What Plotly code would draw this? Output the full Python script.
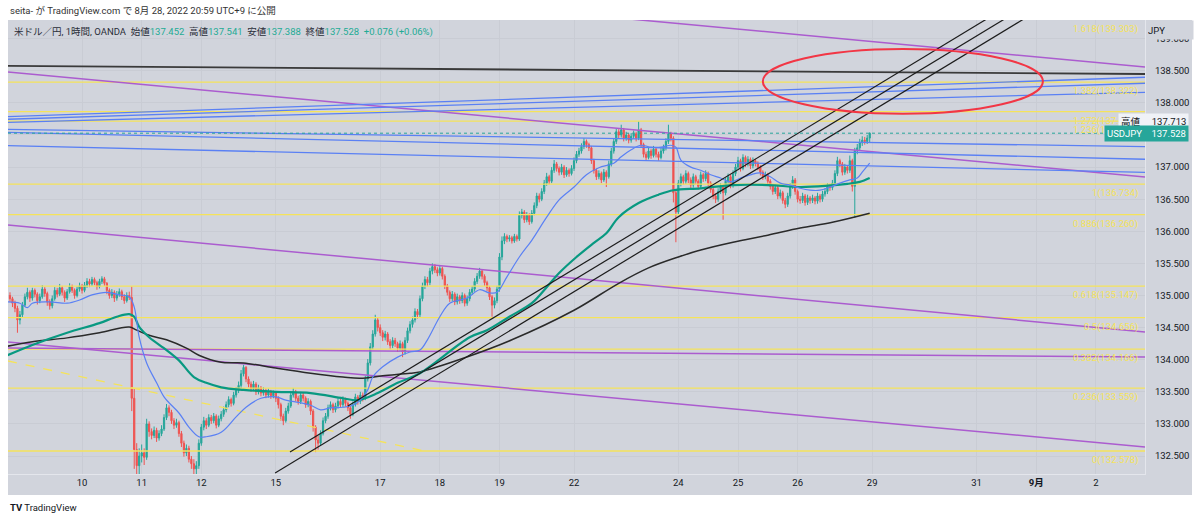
import plotly.graph_objects as go

# ---------------- data ----------------
# hourly bars, bar index 0 = Aug 10 00:00 JST (weekend hours removed)
first_bar = -29
first_open = 135.00
closes = [
    134.95, 134.88, 134.80, 134.62, 134.70, 134.85, 134.98, 135.05, 134.96, 135.08,
    135.02, 134.92, 134.98, 135.10, 135.03, 134.90, 134.84, 134.95, 135.08, 135.02,
    135.12, 135.05, 134.96, 135.06, 135.14, 135.08, 135.00, 135.10, 135.15, 135.08,
    135.16, 135.22, 135.18, 135.25, 135.20, 135.14, 135.22, 135.26, 135.19, 135.08,
    135.00, 135.05, 134.96, 135.02, 135.06, 134.98, 134.92, 135.00, 134.97, 133.40,
    132.60, 132.35, 132.50, 132.55, 132.48, 133.00, 132.88, 132.82, 132.90, 132.78,
    132.85, 132.92, 133.10, 133.25, 133.18, 133.05, 132.98, 133.02, 132.85, 132.70,
    132.55, 132.62, 132.45, 132.38, 132.30, 132.35, 132.70, 132.95, 133.05, 132.98,
    133.10, 133.05, 133.12, 132.98, 133.08, 133.15, 133.22, 133.30, 133.38, 133.32,
    133.45, 133.52, 133.60, 133.78, 133.88, 133.70, 133.62, 133.55, 133.62, 133.50,
    133.56, 133.48, 133.52, 133.45, 133.50, 133.44, 133.48, 133.40, 133.30, 133.12,
    133.05, 133.20, 133.28, 133.45, 133.50, 133.40, 133.35, 133.45, 133.40, 133.30,
    133.35, 133.20, 132.95, 132.75, 132.70, 132.85, 133.05, 133.12, 133.25, 133.30,
    133.22, 133.28, 133.35, 133.30, 133.38, 133.32, 133.25, 133.15, 133.30, 133.42,
    133.35, 133.45, 133.40, 133.70, 133.95, 134.20, 134.40, 134.62, 134.50, 134.42,
    134.35, 134.40, 134.28, 134.22, 134.30, 134.25, 134.18, 134.25, 134.12, 134.30,
    134.45, 134.55, 134.62, 134.75, 134.70, 134.95, 135.15, 135.25, 135.20, 135.38,
    135.45, 135.40, 135.35, 135.42, 135.30, 135.15, 135.05, 134.95, 135.02, 134.90,
    134.98, 134.92, 135.00, 134.88, 134.95, 135.05, 135.10, 135.22, 135.30, 135.38,
    135.30, 135.20, 135.12, 134.98, 134.85, 134.92, 135.10, 135.60, 135.85, 135.92,
    135.88, 135.90, 135.85, 135.92, 135.88, 136.25, 136.30, 136.18, 136.25, 136.15,
    136.28, 136.40, 136.55, 136.50, 136.62, 136.75, 136.85, 136.78, 136.95, 137.05,
    136.98, 136.92, 137.00, 136.88, 136.95, 136.90, 136.98, 137.10, 137.20, 137.25,
    137.32, 137.40, 137.35, 137.30, 137.10, 136.95, 136.85, 136.90, 136.80, 136.92,
    136.85, 137.05, 137.25, 137.40, 137.55, 137.50, 137.58, 137.45, 137.50, 137.42,
    137.48, 137.52, 137.45, 137.58, 137.35, 137.20, 137.15, 137.25, 137.18, 137.28,
    137.20, 137.15, 137.25, 137.30, 137.40, 137.52, 137.45, 136.60, 136.30, 136.75,
    136.85, 136.78, 136.90, 136.80, 136.72, 136.85, 136.78, 136.70, 136.88, 136.82,
    136.90, 136.75, 136.65, 136.55, 136.50, 136.62, 136.70, 136.60, 136.78, 136.85,
    136.72, 136.90, 137.00, 137.10, 136.98, 137.15, 137.05, 137.12, 137.02, 137.10,
    137.06, 137.00, 136.92, 136.85, 136.88, 136.78, 136.70, 136.62, 136.68, 136.55,
    136.60, 136.48, 136.42, 136.55, 136.70, 136.80, 136.62, 136.50, 136.48, 136.55,
    136.45, 136.52, 136.48, 136.52, 136.47, 136.55, 136.50, 136.58, 136.62, 136.70,
    136.68, 136.75, 136.90, 137.10, 137.05, 136.92, 137.00, 136.95, 137.10, 136.70,
    137.25, 137.30, 137.38, 137.42, 137.40, 137.452, 137.528,
]
highs = [
    135.05, 134.98, 134.92, 134.84, 134.76, 134.90, 135.03, 135.12, 135.08, 135.12,
    135.11, 135.05, 135.03, 135.16, 135.13, 135.06, 134.94, 135.00, 135.13, 135.12,
    135.18, 135.15, 135.08, 135.10, 135.19, 135.17, 135.11, 135.14, 135.20, 135.18,
    135.21, 135.27, 135.26, 135.29, 135.28, 135.23, 135.26, 135.30, 135.29, 135.21,
    135.11, 135.10, 135.08, 135.07, 135.11, 135.09, 135.02, 135.05, 135.06, 135.14,
    133.55, 132.70, 132.62, 132.68, 132.62, 133.08, 133.04, 132.93, 132.96, 132.94,
    132.90, 132.98, 133.15, 133.31, 133.29, 133.22, 133.09, 133.08, 133.05, 132.89,
    132.74, 132.68, 132.66, 132.50, 132.45, 132.42, 132.76, 133.00, 133.11, 133.09,
    133.15, 133.14, 133.17, 133.15, 133.13, 133.20, 133.27, 133.35, 133.43, 133.41,
    133.50, 133.57, 133.66, 133.84, 133.92, 133.90, 133.74, 133.66, 133.67, 133.65,
    133.61, 133.59, 133.57, 133.55, 133.55, 133.53, 133.52, 133.50, 133.43, 133.33,
    133.16, 133.25, 133.33, 133.50, 133.56, 133.53, 133.44, 133.50, 133.49, 133.43,
    133.40, 133.38, 133.23, 132.98, 132.82, 132.90, 133.10, 133.17, 133.30, 133.35,
    133.33, 133.33, 133.40, 133.39, 133.43, 133.41, 133.35, 133.28, 133.35, 133.47,
    133.45, 133.50, 133.49, 133.75, 134.01, 134.26, 134.46, 134.70, 134.65, 134.55,
    134.46, 134.45, 134.43, 134.32, 134.35, 134.34, 134.28, 134.30, 134.28, 134.35,
    134.50, 134.60, 134.67, 134.80, 134.79, 135.00, 135.20, 135.30, 135.29, 135.43,
    135.50, 135.49, 135.44, 135.47, 135.45, 135.33, 135.18, 135.08, 135.07, 135.05,
    135.03, 135.01, 135.05, 135.03, 135.00, 135.10, 135.15, 135.27, 135.35, 135.43,
    135.41, 135.33, 135.23, 135.15, 135.01, 134.97, 135.15, 135.66, 135.92, 135.97,
    135.95, 135.94, 135.93, 135.96, 135.95, 136.31, 136.35, 136.33, 136.30, 136.28,
    136.33, 136.45, 136.60, 136.59, 136.67, 136.80, 136.91, 136.88, 137.00, 137.11,
    137.08, 137.01, 137.05, 137.03, 137.00, 136.98, 137.03, 137.15, 137.25, 137.30,
    137.37, 137.45, 137.43, 137.38, 137.33, 137.13, 136.98, 136.95, 136.93, 136.97,
    136.95, 137.10, 137.30, 137.45, 137.60, 137.59, 137.66, 137.61, 137.55, 137.53,
    137.53, 137.57, 137.55, 137.713, 137.61, 137.38, 137.24, 137.30, 137.28, 137.33,
    137.31, 137.24, 137.30, 137.35, 137.45, 137.66, 137.55, 137.48, 136.66, 136.80,
    136.90, 136.88, 136.95, 136.93, 136.84, 136.90, 136.88, 136.81, 136.93, 136.91,
    136.95, 136.93, 136.78, 136.68, 136.59, 136.67, 136.75, 136.73, 136.83, 136.90,
    136.88, 136.95, 137.05, 137.16, 137.13, 137.20, 137.18, 137.17, 137.15, 137.15,
    137.13, 137.09, 137.03, 136.95, 136.93, 136.91, 136.81, 136.73, 136.73, 136.71,
    136.65, 136.63, 136.52, 136.60, 136.75, 136.86, 136.83, 136.65, 136.55, 136.60,
    136.58, 136.57, 136.55, 136.57, 136.55, 136.60, 136.58, 136.63, 136.67, 136.75,
    136.74, 136.80, 136.95, 137.16, 137.13, 137.08, 137.05, 137.03, 137.18, 137.13,
    137.30, 137.36, 137.44, 137.48, 137.47, 137.50, 137.541,
]
lows = [
    134.90, 134.82, 134.74, 134.42, 134.55, 134.66, 134.82, 134.94, 134.90, 134.92,
    134.97, 134.86, 134.88, 134.95, 134.98, 134.84, 134.78, 134.80, 134.92, 134.97,
    134.99, 135.00, 134.90, 134.93, 135.03, 135.04, 134.95, 134.97, 135.06, 135.03,
    135.05, 135.12, 135.13, 135.15, 135.16, 135.09, 135.11, 135.18, 135.15, 135.02,
    134.95, 134.96, 134.90, 134.92, 134.98, 134.93, 134.87, 134.89, 134.93, 133.20,
    132.30, 132.05, 132.10, 132.40, 132.36, 132.44, 132.80, 132.76, 132.78, 132.72,
    132.74, 132.81, 132.89, 133.06, 133.12, 133.00, 132.92, 132.94, 132.80, 132.64,
    132.49, 132.50, 132.40, 132.30, 131.75, 131.90, 132.30, 132.66, 132.90, 132.92,
    132.95, 133.00, 133.01, 132.93, 132.95, 133.04, 133.11, 133.18, 133.26, 133.27,
    133.29, 133.41, 133.48, 133.56, 133.74, 133.65, 133.57, 133.50, 133.51, 133.45,
    133.46, 133.43, 133.44, 133.40, 133.41, 133.39, 133.40, 133.34, 133.24, 133.05,
    132.98, 133.02, 133.16, 133.25, 133.41, 133.35, 133.30, 133.31, 133.35, 133.25,
    133.26, 133.14, 132.88, 132.56, 132.60, 132.66, 132.82, 133.01, 133.08, 133.21,
    133.17, 133.18, 133.24, 133.25, 133.26, 133.27, 133.20, 133.08, 133.12, 133.27,
    133.30, 133.31, 133.35, 133.37, 133.66, 133.91, 134.16, 134.36, 134.44, 134.37,
    134.29, 134.30, 134.23, 134.16, 134.18, 134.20, 134.12, 134.14, 134.04, 134.08,
    134.26, 134.41, 134.50, 134.58, 134.64, 134.66, 134.91, 135.10, 135.14, 135.16,
    135.33, 135.35, 135.30, 135.31, 135.25, 135.10, 135.00, 134.90, 134.91, 134.85,
    134.86, 134.87, 134.88, 134.83, 134.84, 134.91, 135.01, 135.06, 135.18, 135.26,
    135.25, 135.15, 135.07, 134.93, 134.67, 134.80, 134.88, 135.06, 135.55, 135.80,
    135.83, 135.84, 135.81, 135.82, 135.84, 135.85, 136.20, 136.13, 136.14, 136.10,
    136.12, 136.25, 136.36, 136.45, 136.47, 136.58, 136.71, 136.73, 136.75, 136.91,
    136.93, 136.87, 136.88, 136.83, 136.85, 136.85, 136.87, 136.94, 137.06, 137.16,
    137.21, 137.28, 137.30, 137.25, 137.05, 136.90, 136.80, 136.81, 136.75, 136.77,
    136.69, 136.82, 137.01, 137.21, 137.36, 137.45, 137.46, 137.40, 137.41, 137.37,
    137.38, 137.44, 137.40, 137.42, 137.30, 137.15, 137.10, 137.12, 137.13, 137.15,
    137.15, 137.10, 137.12, 137.21, 137.26, 137.36, 137.40, 136.45, 135.83, 136.26,
    136.70, 136.73, 136.74, 136.75, 136.67, 136.68, 136.73, 136.65, 136.66, 136.77,
    136.78, 136.70, 136.60, 136.50, 136.44, 136.46, 136.58, 136.18, 136.56, 136.74,
    136.67, 136.68, 136.86, 136.96, 136.93, 136.95, 137.00, 137.01, 136.97, 136.98,
    137.01, 136.95, 136.87, 136.80, 136.81, 136.73, 136.65, 136.57, 136.58, 136.50,
    136.51, 136.43, 136.36, 136.38, 136.51, 136.66, 136.57, 136.45, 136.43, 136.44,
    136.40, 136.41, 136.43, 136.44, 136.42, 136.43, 136.45, 136.46, 136.54, 136.58,
    136.63, 136.64, 136.71, 136.86, 137.00, 136.87, 136.88, 136.90, 136.91, 136.62,
    136.21, 137.20, 137.26, 137.33, 137.35, 137.36, 137.388,
]

tick_bars = [0, 24, 48, 78, 120, 144, 168, 198, 240, 264, 288, 318, 360, 384, 408]
tick_labels = ["10", "11", "12", "15", "17", "18", "19", "22", "24", "25", "26",
               "29", "31", "<b>9月</b>", "2"]
price_ticks = [132.5, 133.0, 133.5, 134.0, 134.5, 135.0, 135.5, 136.0, 136.5,
               137.0, 137.5, 138.0, 138.5, 139.0]
hidden_price_ticks = [137.5]   # covered by the USDJPY price box in the reference

blue_ma_x = [-30, -25, -22, -20, -13, -6, -1, 4, 10, 15, 19, 21, 23, 26, 30, 33, 35, 39,
             43, 47, 50, 56, 62, 66, 72, 78, 82, 88, 92, 96, 100, 105, 109, 112, 115,
             117, 121, 127, 132, 136, 139, 144, 148, 155, 160, 164, 167, 171, 176, 181,
             187, 192, 198, 203, 208, 214, 217, 221, 225, 229, 233, 237, 239, 241, 245,
             249, 253, 257, 261, 265, 269, 273, 277, 281, 285, 289, 293, 297, 301, 305,
             309, 312, 314, 317]
blue_ma_y = [134.90, 134.88, 134.81, 134.88, 134.90, 134.88, 134.93, 135.01, 135.05,
             135.01, 134.98, 134.82, 134.35, 133.95, 133.64, 133.42, 133.33, 133.17,
             132.95, 132.80, 132.80, 132.87, 133.11, 133.26, 133.40, 133.42, 133.37,
             133.33, 133.29, 133.22, 133.25, 133.26, 133.29, 133.37, 133.53, 133.73,
             133.89, 134.04, 134.12, 134.15, 134.31, 134.67, 134.88, 134.96, 135.09,
             135.04, 135.05, 135.29, 135.60, 135.86, 136.22, 136.49, 136.69, 136.88,
             136.99, 137.06, 137.16, 137.27, 137.34, 137.31, 137.31, 137.34, 137.31,
             137.11, 137.00, 136.95, 136.88, 136.83, 136.77, 136.83, 136.88, 136.91,
             136.85, 136.75, 136.72, 136.67, 136.64, 136.64, 136.69, 136.75, 136.80,
             136.83, 136.92, 137.06]
green_ma_x = [-30, -20, -6, 7, 14, 19, 21, 23, 27, 34, 39, 45, 50, 56, 65, 78, 92, 105,
              111, 119, 127, 136, 156, 163, 172, 181, 187, 192, 199, 206, 211, 216, 224,
              232, 238, 249, 262, 276, 289, 300, 308, 313, 317]
green_ma_y = [134.07, 134.23, 134.42, 134.57, 134.67, 134.71, 134.67, 134.51, 134.35,
              134.15, 133.99, 133.73, 133.64, 133.57, 133.53, 133.50, 133.48, 133.40,
              133.37, 133.48, 133.64, 133.79, 134.35, 134.46, 134.67, 134.88, 135.13,
              135.35, 135.60, 135.82, 135.97, 136.22, 136.44, 136.57, 136.64, 136.67,
              136.72, 136.72, 136.69, 136.71, 136.74, 136.77, 136.83]
black_ma_x = [-30, -20, -6, 7, 19, 22, 27, 34, 42, 47, 56, 65, 78, 92, 105, 112, 121,
              132, 136, 154, 173, 198, 216, 228, 240, 249, 262, 276, 289, 302, 317]
black_ma_y = [134.21, 134.28, 134.34, 134.42, 134.51, 134.46, 134.38, 134.31, 134.18,
              134.07, 133.96, 133.95, 133.87, 133.79, 133.73, 133.71, 133.75, 133.79,
              133.81, 134.03, 134.31, 134.77, 135.19, 135.43, 135.60, 135.71, 135.83,
              135.94, 136.05, 136.14, 136.28]

fib_levels = ["1.618", "1.382", "1.272", "1.236", "1", "0.886", "0.618", "0.5",
              "0.382", "0.236", "0"]
fib_prices = [139.303, 138.322, 137.864, 137.715, 136.734, 136.260, 135.147,
              134.656, 134.166, 133.559, 132.578]

# drawn lines (bar index, price) end points
purple_x0 = [150, -29.8, -29.8, -29.8, -29.8]
purple_y0 = [139.56, 138.481, 136.098, 134.276, 134.182]
purple_x1 = [427.8, 427.8, 427.8, 427.8, 427.8]
purple_y1 = [138.559, 136.846, 134.431, 132.640, 134.042]
blue_line_y0 = [137.785, 137.745, 137.698, 137.589, 137.542, 137.333]
blue_line_y1 = [138.399, 138.306, 138.165, 137.318, 137.122, 136.919]
black_hline_y = [138.575, 138.45]
trend_x0 = [77.7, 83.7, 107.0]
trend_y0 = [132.235, 132.562, 133.279]
trend_x1 = [391.5, 383.8, 376.6]
trend_y1 = [139.60, 139.60, 139.60]
dashed_x = [-29.8, 140]
dashed_y = [133.98, 132.56]
ellipse_x = [274, 386.7]
ellipse_y = [137.83, 138.84]
range_high_label = 137.713

# ---------------- figure ----------------
FONT = "Roboto, Noto Sans CJK JP, sans-serif"
BG = "#d1d4dc"
UP = "#26a69a"
DOWN = "#ef5350"
YEL = "#f5e35a"
PURPLE = "#ab5ccf"
BLUE = "#5a80f4"
TEAL_TXT = "#22ab94"
X_MIN, X_MAX = -29.8, 427.8
Y_MIN, Y_MAX = 132.22, 139.291

assert len(closes) == len(highs) == len(lows)
xs = list(range(first_bar, first_bar + len(closes)))
opens = [first_open] + closes[:-1]

fig = go.Figure()

def line(x, y, color, width, dash="solid", shape="linear"):
    fig.add_trace(go.Scatter(x=x, y=y, mode="lines", hoverinfo="skip", showlegend=False,
                             line=dict(color=color, width=width, dash=dash, shape=shape)))

for p in fib_prices:
    line([X_MIN, X_MAX], [p, p], YEL, 1.3)
line(dashed_x, dashed_y, YEL, 1.3, dash="dash")
for i in range(len(purple_y0)):
    line([purple_x0[i], purple_x1[i]], [purple_y0[i], purple_y1[i]], PURPLE, 1.5)
for i in range(len(blue_line_y0)):
    line([X_MIN, X_MAX], [blue_line_y0[i], blue_line_y1[i]], BLUE, 1.3)
line([X_MIN, X_MAX], black_hline_y, "#3a3a3a", 1.8)

fig.add_trace(go.Candlestick(
    x=xs, open=opens, high=highs, low=lows, close=closes,
    increasing=dict(line=dict(color=UP, width=1), fillcolor=UP),
    decreasing=dict(line=dict(color=DOWN, width=1), fillcolor=DOWN),
    whiskerwidth=0, hoverinfo="skip", showlegend=False))

line(black_ma_x, black_ma_y, "#2a2a2a", 1.5, shape="spline")
line(green_ma_x, green_ma_y, "#089981", 2.2, shape="spline")
line(blue_ma_x, blue_ma_y, BLUE, 1.2, shape="spline")
for i in range(len(trend_x0)):
    line([trend_x0[i], trend_x1[i]], [trend_y0[i], trend_y1[i]], "#1c1c1c", 1.2)
line([X_MIN, X_MAX], [closes[-1], closes[-1]], UP, 1, dash="dot")

# plot geometry (pixels)
W, H = 1200, 520
L, R, T, B = 8, 55, 20, 46
pw, ph = W - L - R, H - T - B
def px(xp):
    return (xp - L) / pw
def py(yp):
    return (H - B - yp) / ph

shapes = [
    dict(type="rect", xref="paper", yref="paper", x0=0, x1=px(1192), y0=py(495), y1=1,
         fillcolor=BG, line=dict(width=0), layer="below"),
    dict(type="circle", xref="x", yref="y", x0=ellipse_x[0], x1=ellipse_x[1],
         y0=ellipse_y[0], y1=ellipse_y[1], line=dict(color="#f23645", width=2), layer="above"),
]

annotations = []
for lvl, p in zip(fib_levels, fib_prices):
    annotations.append(dict(xref="paper", yref="y", x=px(1140), y=min(p, Y_MAX),
                            xanchor="right", yanchor="top", yshift=-1, showarrow=False,
                            text=f"{lvl}({p:.3f})", font=dict(family=FONT, size=9.5, color=YEL)))

o, h, l, c = opens[-1], highs[-1], lows[-1], closes[-1]
chg = c - o
pct = chg / o * 100
sp = "\u00a0\u00a0"
def val(v):
    return f'<span style="color:{TEAL_TXT}">{v}</span>'
header = ("米ドル／円, 1時間, OANDA" + sp + "始値" + val(f"{o:.3f}") + sp + "高値" + val(f"{h:.3f}")
          + sp + "安値" + val(f"{l:.3f}") + sp + "終値" + val(f"{c:.3f}") + sp
          + val(f"{chg:+.3f} ({pct:+.2f}%)"))
annotations += [
    dict(xref="paper", yref="paper", x=px(12), y=py(32), xanchor="left", yanchor="middle",
         showarrow=False, text=header, font=dict(family=FONT, size=9.5, color="#2a2e39")),
    dict(xref="paper", yref="paper", x=0, y=py(10), xanchor="left", yanchor="middle",
         showarrow=False, text="seita- が TradingView.com で 8月 28, 2022 20:59 UTC+9 に公開",
         font=dict(family=FONT, size=9.5, color="#333333")),
    dict(xref="paper", yref="paper", x=0, y=py(508), xanchor="left", yanchor="middle",
         showarrow=False, text="<b>TV</b> TradingView",
         font=dict(family=FONT, size=9.5, color="#131722")),
    dict(xref="paper", yref="paper", x=px(1146), y=1, xanchor="left", yanchor="top",
         showarrow=False, text="JPY", width=44, height=16, align="left", bgcolor=BG,
         font=dict(family=FONT, size=9.5, color="#131722")),
    dict(xref="paper", yref="y", x=px(1189), y=range_high_label, xanchor="right",
         yanchor="middle", showarrow=False, bgcolor="#f0f2f7", borderpad=2,
         text="高値\u00a0\u00a0\u00a0\u00a0\u00a0" + f"{range_high_label:.3f}",
         font=dict(family=FONT, size=9.5, color="#131722")),
    dict(xref="paper", yref="y", x=px(1189), y=c, xanchor="right", yanchor="middle",
         showarrow=False, bgcolor=UP, borderpad=2,
         text="USDJPY\u00a0\u00a0\u00a0\u00a0" + f"{c:.3f}",
         font=dict(family=FONT, size=9.5, color="#ffffff")),
]

fig.update_layout(
    width=W, height=H, margin=dict(l=L, r=R, t=T, b=B, autoexpand=False),
    paper_bgcolor="#ffffff", plot_bgcolor=BG, showlegend=False,
    font=dict(family=FONT, size=10, color="#131722"),
    shapes=shapes, annotations=annotations,
    xaxis=dict(range=[X_MIN, X_MAX], tickvals=tick_bars, ticktext=tick_labels,
               showgrid=True, gridcolor="#c9ccd4", gridwidth=1, zeroline=False,
               showline=True, linecolor="#e4e6ec", linewidth=1, ticks="",
               rangeslider=dict(visible=False), fixedrange=True,
               tickfont=dict(family=FONT, size=9.5, color="#131722")),
    yaxis=dict(range=[Y_MIN, Y_MAX], side="right", tickvals=price_ticks,
               ticktext=["" if t in hidden_price_ticks else f"{t:.3f}" for t in price_ticks],
               showgrid=True, gridcolor="#c9ccd4", gridwidth=1, zeroline=False,
               showline=True, linecolor="#e4e6ec", linewidth=1, ticks="",
               ticklabelstandoff=7, fixedrange=True,
               tickfont=dict(family=FONT, size=9.5, color="#131722")),
)

fig.write_html("out.html", config={"displayModeBar": False},
               post_script="document.body.style.margin='0';")
